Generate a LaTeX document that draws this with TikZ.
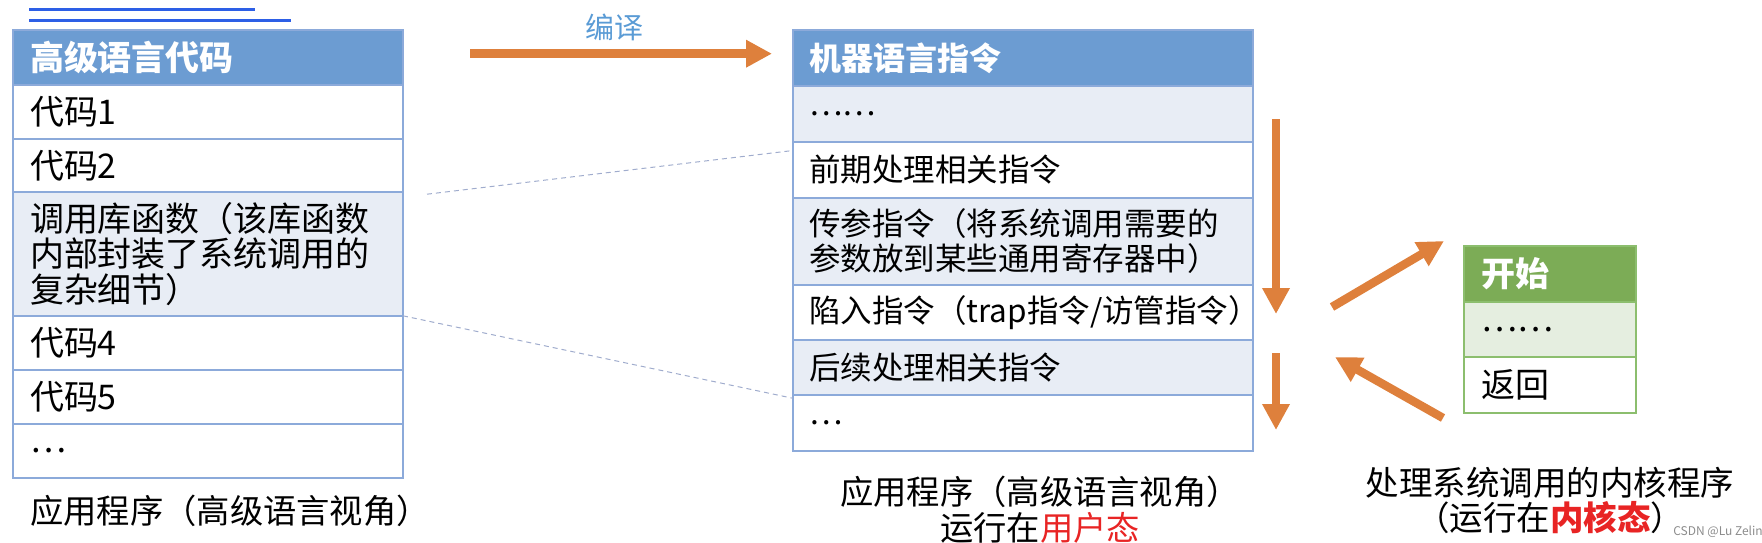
\documentclass[tikz,border=0pt]{standalone}
\usepackage{fontspec}
\setmainfont{Noto Sans CJK SC}
\usetikzlibrary{arrows.meta,calc}
\definecolor{hdrblue}{RGB}{108,156,210}
\definecolor{rowblue}{RGB}{232,237,245}
\definecolor{bordblue}{RGB}{140,170,218}
\definecolor{hdrgreen}{RGB}{124,172,86}
\definecolor{rowgreen}{RGB}{229,238,224}
\definecolor{bordgreen}{RGB}{140,190,110}
\definecolor{arrorange}{RGB}{222,128,60}
\definecolor{lblblue}{RGB}{90,155,213}
\definecolor{kred}{RGB}{232,36,36}
\definecolor{dashc}{RGB}{160,172,205}
\definecolor{topblue}{RGB}{45,95,230}
\begin{document}
\begin{tikzpicture}[x=1pt,y=-1pt,
  cell/.style={draw=bordblue, line width=2pt, anchor=north west, outer sep=0pt, inner xsep=16pt, inner ysep=0pt, align=left},
  lcell/.style={cell, inner xsep=17pt, text width=356pt, font=\fontsize{34}{35.5}\selectfont},
  mcell/.style={cell, text width=428pt, font=\fontsize{31.5}{34.7}\selectfont},
  gcell/.style={cell, draw=bordgreen, text width=138pt, inner xsep=17pt, font=\fontsize{34}{35}\selectfont},
  lhead/.style={lcell, fill=hdrblue, text=white, font=\fontsize{34}{35}\selectfont\bfseries},
  mhead/.style={mcell, fill=hdrblue, text=white, font=\fontsize{32}{35}\selectfont\bfseries},
  ghead/.style={gcell, fill=hdrgreen, text=white, font=\fontsize{34}{35}\selectfont\bfseries},
  capt/.style={inner sep=0pt},
  oarrow/.style={draw=arrorange, line width=8.5pt, -{Triangle[length=26pt,width=26pt]}},
  dashl/.style={draw=dashc, line width=1pt, dash pattern=on 5pt off 4pt}
]
\useasboundingbox (0,0) rectangle (1762,543);

% top decorative lines
\draw[topblue, line width=3pt] (29,10) -- (255,10);
\draw[topblue, line width=3pt] (29,20.7) -- (291,20.7);

% left table
\node[lhead, minimum height=54.5pt] (lh) at (13,30.5) {高级语言代码};
\node[lcell, minimum height=53.5pt] (l1) at (lh.south west) {代码1};
\node[lcell, minimum height=53.7pt] (l2) at (l1.south west) {代码2};
\node[lcell, fill=rowblue, minimum height=123.6pt] (l3) at (l2.south west) {调用库函数（该库函数\\内部封装了系统调用的\\复杂细节）};
\node[lcell, minimum height=54pt] (l4) at (l3.south west) {代码4};
\node[lcell, minimum height=53.7pt] (l5) at (l4.south west) {代码5};
\node[lcell, minimum height=54.3pt] (l6) at (l5.south west) {…};
\node[capt, anchor=west, font=\fontsize{33.3}{35}\selectfont] (lcap) at (30,510.5) {应用程序（高级语言视角）};

% middle table
\node[mhead, minimum height=56pt] (mh) at (793,30.5) {机器语言指令};
\node[mcell, fill=rowblue, minimum height=55.4pt] (m1) at (mh.south west) {……};
\node[mcell, minimum height=56pt] (m2) at (m1.south west) {前期处理相关指令};
\node[mcell, fill=rowblue, minimum height=86.6pt] (m3) at (m2.south west) {传参指令（将系统调用需要的\\参数放到某些通用寄存器中）};
\node[mcell, minimum height=55.4pt] (m4) at (m3.south west) {陷入指令（trap指令/访管指令）};
\node[mcell, fill=rowblue, minimum height=55.4pt] (m5) at (m4.south west) {后续处理相关指令};
\node[mcell, minimum height=55.8pt] (m6) at (m5.south west) {…};
\node[capt, align=center, font=\fontsize{33.3}{36}\selectfont] (mcap) at (1040,510) {应用程序（高级语言视角）\\运行在\textcolor{kred}{用户态}};

% green table
\node[ghead, minimum height=56pt] (gh) at (1464,246) {开始};
\node[gcell, fill=rowgreen, minimum height=55pt] (g1) at (gh.south west) {……};
\node[gcell, minimum height=56pt] (g2) at (g1.south west) {返回};
\node[capt, align=center, font=\fontsize{33.5}{35}\selectfont] (gcap) at (1550,500.5) {处理系统调用的内核程序\\（运行在\textcolor{kred}{\bfseries 内核态}）};

% compile arrow
\coordinate (cs) at (470,53.7);
\coordinate (ce) at (772,53.7);
\draw[oarrow] (cs) -- (ce);
\node[font=\fontsize{29}{29}\selectfont, text=lblblue, inner sep=0pt] (lbl) at (614,27.7) {编译};

% dashed connectors
\draw[dashl] ($(l3.north east)+(24,2)$) -- ($(m2.north west)+(0,8.6)$);
\draw[dashl] (l3.south east) -- ($(m6.north west)+(0,3)$);

% flow arrows
\coordinate (d1s) at (1276,119);
\coordinate (d1e) at (1276,314);
\coordinate (d2s) at (1276,353);
\coordinate (d2e) at (1276,430);
\coordinate (u1s) at (1332,307);
\coordinate (u1e) at (1444,241);
\coordinate (u2s) at (1443,418);
\coordinate (u2e) at (1335,357);
\draw[oarrow] (d1s) -- (d1e);
\draw[oarrow] (d2s) -- (d2e);
\draw[oarrow] (u1s) -- (u1e);
\draw[oarrow] (u2s) -- (u2e);

% watermark
\node[font=\fontsize{12}{12}\selectfont, text=black!45, inner sep=0pt] (wm) at (1718,532) {CSDN @Lu Zelin};
\end{tikzpicture}
\end{document}
